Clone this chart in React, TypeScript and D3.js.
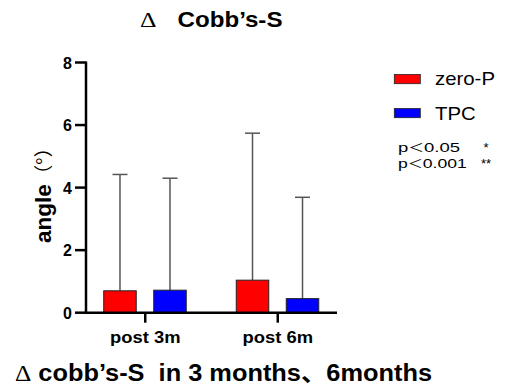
import React from "react";
import * as d3 from "d3";

const categories = ["post 3m", "post 6m"];
const seriesNames = ["zero-P", "TPC"];
const seriesColors = ["#ff0000", "#0000ff"];
const zeroPMeans = [0.7, 1.04];
const zeroPErr = [4.42, 5.74];
const tpcMeans = [0.72, 0.45];
const tpcErr = [4.3, 3.69];
const yTicks = [0, 2, 4, 6, 8];
const pNotes = [["p", "＜", "0.05", "*"], ["p", "＜", "0.001", "**"]];

export default function App() {
  const W = 506, H = 392;
  const x0 = 86, x1 = 337, yTop = 62.5, yBot = 312.7;
  const y = d3.scaleLinear().domain([0, 8]).range([yBot, yTop]);
  const xPt = d3.scalePoint().domain(categories).range([x0, x1]).padding(0.447);
  const barW = 32.5;
  const offsets = d3.scaleOrdinal<string, number>().domain(seriesNames).range([-41.5, 8.5]);
  const means = [zeroPMeans, tpcMeans];
  const errs = [zeroPErr, tpcErr];
  const font = "Arial, 'Liberation Sans', sans-serif";
  const cjk = "'Noto Sans CJK SC', sans-serif";
  const serif = "'Liberation Serif', serif";
  const catLen = [70.5, 70.5];
  const legLen = [60, 40.7];
  const pLen = [62, 68.7];
  return (
    <svg width={W} height={H} style={{ position: "absolute", left: 0, top: 0, background: "#fff" }} fontFamily={font}>
      <text x={140} y={27} fontSize={22} fontFamily={serif} textLength={16.5} lengthAdjust="spacingAndGlyphs">Δ</text>
      <text x={177.5} y={27} fontSize={22} fontWeight="bold" textLength={105} lengthAdjust="spacingAndGlyphs">Cobb’s-S</text>
      {categories.map((c, ci) =>
        seriesNames.map((s, si) => {
          const bx = (xPt(c) as number) + offsets(s);
          const cx = bx + barW / 2;
          return (
            <g key={c + s}>
              <line x1={cx} x2={cx} y1={y(means[si][ci])} y2={y(errs[si][ci])} stroke="#555" strokeWidth={1.5} />
              <line x1={cx - 7.5} x2={cx + 7.5} y1={y(errs[si][ci])} y2={y(errs[si][ci])} stroke="#555" strokeWidth={1.5} />
              <rect x={bx} y={y(means[si][ci])} width={barW} height={yBot - y(means[si][ci])} fill={seriesColors[si]} stroke="#222" strokeWidth={1} />
            </g>
          );
        })
      )}
      <line x1={x0} x2={x0} y1={yTop - 1} y2={yBot + 1.2} stroke="#000" strokeWidth={2.5} />
      <line x1={x0 - 1.2} x2={x1} y1={yBot} y2={yBot} stroke="#000" strokeWidth={2.5} />
      {yTicks.map(t => (
        <g key={t}>
          <line x1={x0 - 11} x2={x0} y1={y(t)} y2={y(t)} stroke="#000" strokeWidth={2.5} />
          <text x={x0 - 14} y={y(t) + 6} textAnchor="end" fontSize={16} fontWeight="bold">{t}</text>
        </g>
      ))}
      {categories.map((c, i) => {
        const cx = xPt(c) as number;
        return (
          <g key={c}>
            <line x1={cx} x2={cx} y1={yBot} y2={yBot + 10} stroke="#000" strokeWidth={2.5} />
            <text x={cx - catLen[i] / 2} y={343} fontSize={17} fontWeight="bold" textLength={catLen[i]} lengthAdjust="spacingAndGlyphs">{c}</text>
          </g>
        );
      })}
      <text transform={`translate(51,243) rotate(-90)`} fontSize={22} fontWeight="bold" textLength={105} lengthAdjust="spacingAndGlyphs">
        <tspan>angle</tspan>
        <tspan fontFamily={cjk} fontWeight="normal" fontSize={19}>（°）</tspan>
      </text>
      {seriesNames.map((s, i) => (
        <g key={s}>
          <rect x={394.3} y={74.5 + i * 34} width={26} height={9.2} fill={seriesColors[i]} stroke="#222" strokeWidth={0.8} />
          <text x={435} y={85 + i * 35} fontSize={18.5} textLength={legLen[i]} lengthAdjust="spacingAndGlyphs">{s}</text>
        </g>
      ))}
      {pNotes.map((p, i) => (
        <g key={p[2]}>
          <text x={398} y={151.7 + i * 16.6} fontSize={13.5} textLength={pLen[i]} lengthAdjust="spacingAndGlyphs">
            {p[0]}<tspan fontFamily={cjk} fontSize={11.5}>{p[1]}</tspan>{p[2]}
          </text>
          <text x={486} y={151.7 + i * 16.6} textAnchor="middle" fontSize={13}>{p[3]}</text>
        </g>
      ))}
      <text x={15} y={381} fontSize={23} fontWeight="bold" textLength={417} lengthAdjust="spacingAndGlyphs" style={{ whiteSpace: "pre" }}>
        <tspan fontFamily={serif} fontWeight="normal">Δ</tspan>
        <tspan>{" cobb’s-S  in 3 months"}</tspan>
        <tspan fontFamily={cjk}>、</tspan>
        <tspan>6months</tspan>
      </text>
    </svg>
  );
}
